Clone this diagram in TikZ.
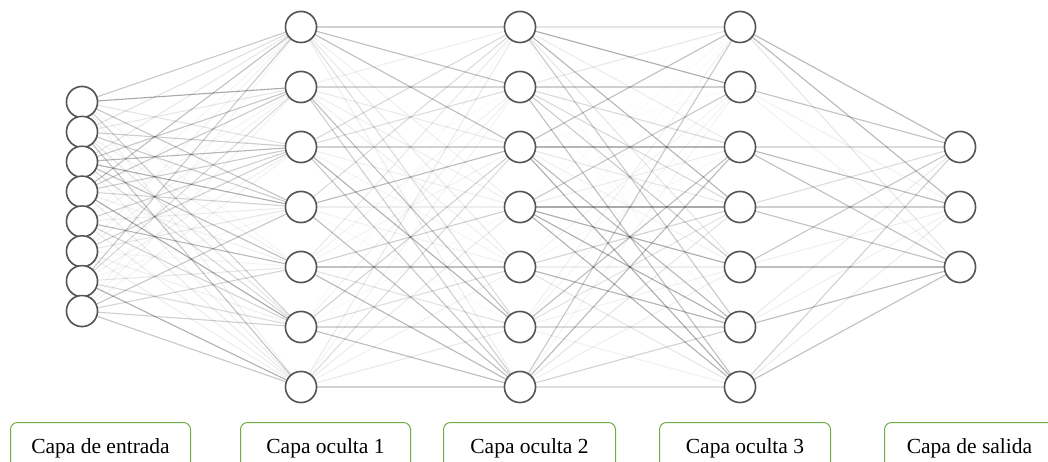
\documentclass[tikz,border=0pt]{standalone}
\usepackage{fontspec}
\setmainfont{Liberation Serif}
\definecolor{boxgreen}{HTML}{70AD47}
\definecolor{ringgray}{HTML}{555555}
\begin{document}
\begin{tikzpicture}[x=1pt,y=-1pt,
  neuron/.style={circle,draw=ringgray,line width=1.5pt,fill=white,minimum size=31pt,inner sep=0pt},
  layerbox/.style={draw=boxgreen,line width=1pt,rounded corners=7pt,fill=white,minimum height=48pt,anchor=north west,font=\fontsize{21.5}{24}\selectfont,text height=15pt,text depth=2pt},
  wire/.style={line width=1.1pt,draw=black}]
\useasboundingbox (0,0) rectangle (1048,462);
\clip (0,0) rectangle (1048,462);
% nodes
\foreach \k in {1,...,8} {
  \node[neuron] (i\k) at (82,{102+(\k-1)*29.86}) {};
}
\foreach \L/\x in {a/301,b/520,c/740} {
  \foreach \k in {1,...,7} {
    \node[neuron] (\L\k) at (\x,{27+(\k-1)*60}) {};
  }
}
\foreach \k in {1,2,3} {
  \node[neuron] (o\k) at (960,{147+(\k-1)*60}) {};
}
% connections
\pgfmathsetseed{11}
\foreach \p in {1,...,8} {
  \foreach \q in {1,...,7} {
    \pgfmathsetmacro\op{0.03+0.33*rnd^1.4}
    \draw[wire,draw opacity=\op] (i\p) -- (a\q);
  }
}
\foreach \A/\B in {a/b,b/c} {
  \foreach \p in {1,...,7} {
    \foreach \q in {1,...,7} {
      \pgfmathsetmacro\op{0.02+0.32*rnd^1.4}
      \draw[wire,draw opacity=\op] (\A\p) -- (\B\q);
    }
  }
}
\foreach \p in {1,...,7} {
  \foreach \q in {1,2,3} {
    \pgfmathsetmacro\op{0.05+0.3*rnd^1.3}
    \draw[wire,draw opacity=\op] (c\p) -- (o\q);
  }
}
% redraw rings on top
\foreach \k in {1,...,8} { \node[neuron] (j\k) at (i\k) {}; }
\foreach \L in {a,b,c} { \foreach \k in {1,...,7} { \node[neuron] (r\L\k) at (\L\k) {}; } }
\foreach \k in {1,2,3} { \node[neuron] (p\k) at (o\k) {}; }
% layer labels
\node[layerbox,minimum width=180pt] (l1) at (10,422) {Capa de entrada};
\node[layerbox,minimum width=170pt] (l2) at (240,422) {Capa oculta 1};
\node[layerbox,minimum width=172pt] (l3) at (443,422) {Capa oculta 2};
\node[layerbox,minimum width=171pt] (l4) at (659,422) {Capa oculta 3};
\node[layerbox,minimum width=170pt] (l5) at (884,422) {Capa de salida};
\end{tikzpicture}
\end{document}
